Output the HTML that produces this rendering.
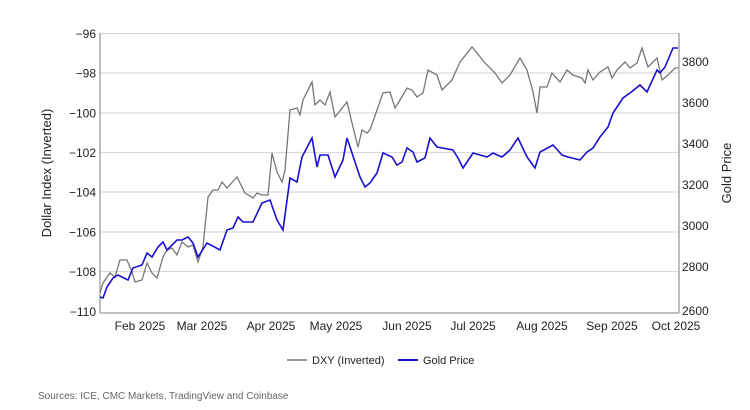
<!DOCTYPE html>
<html><head><meta charset="utf-8"><style>
body{margin:0;background:#fff;}
svg{display:block;font-family:"Liberation Sans",Arial,sans-serif;}
</style></head><body>
<svg width="750" height="410" viewBox="0 0 750 410">
<g stroke="#d9d9d9" stroke-width="1.2">
<line x1="100" y1="33.5" x2="679" y2="33.5"/>
<line x1="100" y1="73" x2="679" y2="73"/>
<line x1="100" y1="113" x2="679" y2="113"/>
<line x1="100" y1="152.5" x2="679" y2="152.5"/>
<line x1="100" y1="192" x2="679" y2="192"/>
<line x1="100" y1="232" x2="679" y2="232"/>
<line x1="100" y1="271.5" x2="679" y2="271.5"/>
</g>
<g stroke="#999" stroke-width="1.3" fill="none">
<line x1="100" y1="33" x2="100" y2="313"/>
<line x1="679" y1="33" x2="679" y2="313"/>
<line x1="100" y1="313" x2="679" y2="313"/>
</g>
<g font-size="12" fill="#222" text-anchor="end">
<text x="96" y="38">−96</text><text x="96" y="77.5">−98</text><text x="96" y="117.5">−100</text>
<text x="96" y="157">−102</text><text x="96" y="196.5">−104</text><text x="96" y="236.5">−106</text>
<text x="96" y="276">−108</text><text x="96" y="316">−110</text>
</g>
<g font-size="12" fill="#222">
<text x="682" y="66">3800</text><text x="682" y="107">3600</text><text x="682" y="148">3400</text>
<text x="682" y="189">3200</text><text x="682" y="230">3000</text><text x="682" y="271">2800</text>
<text x="682" y="315">2600</text>
</g>
<g font-size="12" fill="#222" text-anchor="middle">
<text x="140" y="330">Feb 2025</text><text x="202" y="330">Mar 2025</text><text x="271" y="330">Apr 2025</text>
<text x="336" y="330">May 2025</text><text x="407" y="330">Jun 2025</text><text x="473" y="330">Jul 2025</text>
<text x="542" y="330">Aug 2025</text><text x="612" y="330">Sep 2025</text><text x="676" y="330">Oct 2025</text>
</g>
<text transform="translate(51,173) rotate(-90)" font-size="13" fill="#222" text-anchor="middle">Dollar Index (Inverted)</text>
<text transform="translate(731,173) rotate(-90)" font-size="13" fill="#222" text-anchor="middle">Gold Price</text>
<polyline fill="none" stroke="#777" stroke-width="1.3" points="100,293 103,283 110,273 115,277 120,260 127,260 132,272 135,282 142,280 147,263 152,273 157,278 163,257 167,250 172,248 177,255 182,242 188,247 193,245 198,262 203,247 208,197 213,190 218,190 222,182 227,188 237,177 245,193 253,198 257,193 262,195 268,195 272,153 277,172 282,182 285,170 290,110 297,108 300,115 303,100 312,82 315,105 320,100 325,105 330,92 335,117 347,102 352,123 358,147 362,130 367,133 370,130 377,110 383,93 390,92 395,108 400,100 407,88 412,90 417,97 423,93 428,70 437,75 442,90 452,80 460,62 472,47 477,53 485,63 495,73 502,83 510,75 520,58 527,70 533,92 537,113 540,87 547,87 552,73 560,82 567,70 573,75 582,78 585,83 588,70 593,80 600,72 608,67 612,78 617,70 625,62 630,68 637,63 642,48 648,67 657,58 662,80 668,75 675,68 678,68"/>
<polyline fill="none" stroke="#1a0fd0" stroke-width="1.6" points="100,297 103,298 107,287 113,278 118,275 128,280 133,268 142,265 147,253 152,257 158,247 163,242 167,250 177,240 182,240 188,237 193,243 198,257 207,243 220,250 227,230 233,228 238,217 243,222 253,222 262,203 270,200 277,220 283,230 290,178 297,182 302,157 312,138 317,167 320,155 328,155 335,177 343,160 347,138 352,153 360,177 365,187 370,183 377,173 383,153 392,157 397,165 402,162 407,148 413,152 417,162 425,158 430,138 437,147 453,150 458,158 463,168 473,153 487,157 493,153 502,157 510,150 518,138 527,157 535,168 540,152 553,145 562,155 568,157 580,160 587,152 593,148 600,137 608,127 613,113 623,98 630,93 640,85 647,92 657,70 660,73 665,67 673,48 678,48"/>
<line x1="287" y1="360" x2="307" y2="360" stroke="#777" stroke-width="1.5"/>
<text x="312" y="364" font-size="11" fill="#222">DXY (Inverted)</text>
<line x1="398" y1="360" x2="418" y2="360" stroke="#1a0fd0" stroke-width="2"/>
<text x="423" y="364" font-size="11" fill="#222">Gold Price</text>
<text x="38" y="399" font-size="10" fill="#666">Sources: ICE, CMC Markets, TradingView and Coinbase</text>
</svg>
</body></html>
